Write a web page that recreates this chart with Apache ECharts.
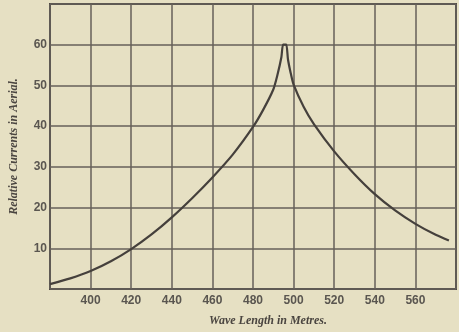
<!DOCTYPE html>
<html>
<head>
<meta charset="utf-8">
<script src="https://cdn.jsdelivr.net/npm/echarts@6/dist/echarts.min.js"></script>
<style>html,body{margin:0;padding:0;background:#e6e0c3;}#c{width:459px;height:332px;}</style>
</head>
<body>
<div id="c"></div>
<script>
const wavelengths = [380, 390, 400, 410, 420, 430, 440, 450, 460, 470, 480, 485, 490, 492, 494, 494.8, 496.4, 497.2, 498.5, 500, 505, 510, 520, 530, 540, 550, 560, 570, 576.5];
const currents    = [1.2, 2.6, 4.4, 6.8, 9.8, 13.4, 17.6, 22.3, 27.4, 33.0, 39.8, 44.0, 49.0, 52.5, 57.0, 60, 60, 56.5, 53.2, 50.2, 44.7, 40.5, 33.8, 28.2, 23.3, 19.3, 16.0, 13.3, 11.9];
const xTickLabels = ['400', '420', '440', '460', '480', '500', '520', '540', '560'];
const yTickLabels = ['10', '20', '30', '40', '50', '60'];
const xName = 'Wave Length in Metres.';
const yName = 'Relative Currents in Aerial.';

const points = wavelengths.map((w, i) => [w, currents[i]]);
const chart = echarts.init(document.getElementById('c'), null, {renderer: 'canvas'});
const lineCol = '#66615a';
chart.setOption({
  backgroundColor: '#e6e0c3',
  animation: false,
  grid: {left: 47, right: 2, top: 4, bottom: 40, show: true, borderColor: '#4d4843', borderWidth: 2, backgroundColor: 'transparent'},
  xAxis: {
    type: 'value', min: 380, max: 580, interval: 20,
    name: xName, nameLocation: 'middle', nameGap: 26,
    nameTextStyle: {fontFamily: 'Liberation Serif', fontStyle: 'italic', fontWeight: 'bold', fontSize: 12, color: '#4a4540', padding: [0, 0, 0, 30]},
    axisLine: {show: false}, axisTick: {show: false},
    axisLabel: {margin: 6, fontFamily: 'Liberation Sans', fontWeight: 'bold', fontSize: 12, color: '#5a5650',
      formatter: v => xTickLabels.includes(String(v)) ? String(v) : ''},
    splitLine: {show: true, lineStyle: {color: lineCol, width: 1.5}}
  },
  yAxis: {
    type: 'value', min: 0, max: 70, interval: 10,
    name: yName, nameLocation: 'middle', nameGap: 30,
    nameTextStyle: {fontFamily: 'Liberation Serif', fontStyle: 'italic', fontWeight: 'bold', fontSize: 12, color: '#4a4540'},
    axisLine: {show: false}, axisTick: {show: false},
    axisLabel: {margin: 3, fontFamily: 'Liberation Sans', fontWeight: 'bold', fontSize: 12, color: '#5a5650',
      formatter: v => yTickLabels.includes(String(v)) ? String(v) : ''},
    splitLine: {show: true, lineStyle: {color: lineCol, width: 1.5}}
  },
  series: [{
    type: 'line', data: points, showSymbol: false, smooth: 0.2,
    lineStyle: {color: '#45403c', width: 2.2}
  }]
});
</script>
</body>
</html>
